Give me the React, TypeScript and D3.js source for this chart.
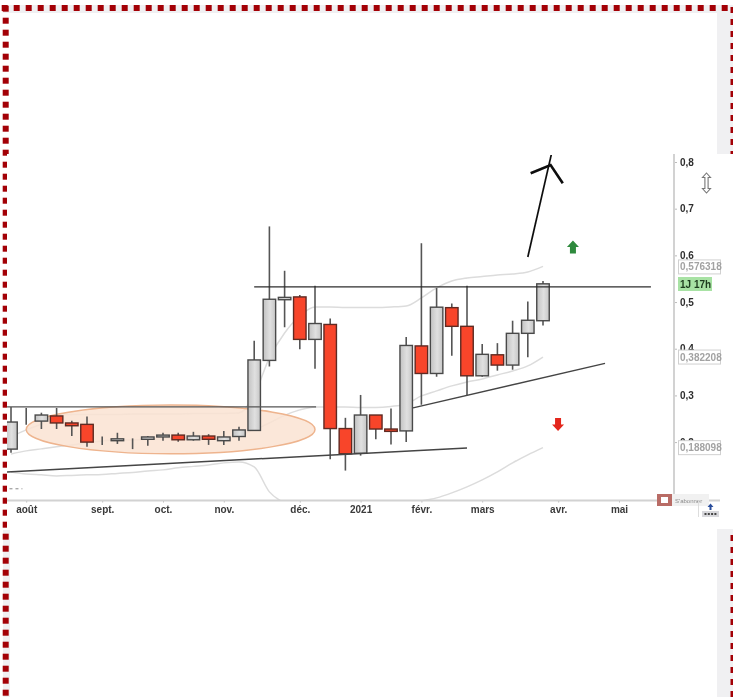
import { useEffect, useRef } from "react";
import * as d3 from "d3";

// weekly candles, [open, high, low, close]
const candles = [
  [0.185, 0.275, 0.177, 0.243], [0.245, 0.273, 0.237, 0.245], [0.245, 0.263, 0.228, 0.258],
  [0.256, 0.273, 0.228, 0.241], [0.241, 0.246, 0.213, 0.235], [0.238, 0.255, 0.19, 0.2],
  [0.203, 0.212, 0.194, 0.203], [0.203, 0.22, 0.196, 0.207], [0.207, 0.208, 0.185, 0.207],
  [0.206, 0.213, 0.192, 0.211], [0.211, 0.22, 0.203, 0.215], [0.215, 0.22, 0.201, 0.205],
  [0.205, 0.222, 0.203, 0.213], [0.213, 0.217, 0.194, 0.206], [0.203, 0.224, 0.194, 0.211],
  [0.212, 0.233, 0.203, 0.226], [0.225, 0.417, 0.224, 0.376], [0.375, 0.662, 0.362, 0.506],
  [0.505, 0.567, 0.446, 0.51], [0.511, 0.515, 0.399, 0.42], [0.42, 0.535, 0.357, 0.454],
  [0.452, 0.465, 0.163, 0.229], [0.229, 0.252, 0.139, 0.175], [0.176, 0.301, 0.171, 0.258],
  [0.258, 0.258, 0.206, 0.228], [0.228, 0.272, 0.195, 0.223], [0.224, 0.425, 0.2, 0.407],
  [0.406, 0.626, 0.28, 0.347], [0.347, 0.53, 0.34, 0.489], [0.488, 0.497, 0.385, 0.448],
  [0.448, 0.535, 0.301, 0.342], [0.342, 0.41, 0.34, 0.388], [0.387, 0.412, 0.353, 0.365],
  [0.365, 0.46, 0.355, 0.433], [0.433, 0.501, 0.382, 0.461], [0.46, 0.545, 0.45, 0.539],
];

const bandUpper = [
  0.2111, 0.2261, 0.239, 0.2583, 0.2593, 0.2593, 0.2593, 0.2593, 0.2604, 0.2604, 0.2604, 0.2604,
  0.2615, 0.2615, 0.2615, 0.2625, 0.3011, 0.3803, 0.4338, 0.4702, 0.4895, 0.4895, 0.4884, 0.4884,
  0.4884, 0.4895, 0.4917, 0.5088, 0.5302, 0.5452, 0.5516, 0.5548, 0.558, 0.5602, 0.5645, 0.576318,
];
const bandMiddle = [
  0.1747, 0.1812, 0.1855, 0.1898, 0.194, 0.1983, 0.2026, 0.2047, 0.2047, 0.2058, 0.2069, 0.209,
  0.209, 0.2111, 0.2111, 0.2154, 0.2261, 0.2411, 0.2572, 0.269, 0.2754, 0.2754, 0.2754, 0.2743,
  0.2743, 0.2765, 0.2818, 0.2989, 0.3097, 0.3204, 0.3289, 0.3353, 0.3439, 0.3525, 0.3632, 0.382208,
];
// lower band runs off the bottom of the chart between déc. and févr.
const bandLower = [
  0.1362, 0.1319, 0.1298, 0.1276, 0.1287, 0.1298, 0.1308, 0.133, 0.1351, 0.1383, 0.1405, 0.1448,
  0.148, 0.1512, 0.1555, 0.1576, 0.1469, 0.0934, 0.0698, null, null, null, null, null,
  null, null, null, 0.0741, 0.0805, 0.0912, 0.1041, 0.1191, 0.1362, 0.1555, 0.1726, 0.188098,
];

const monthTicks = [1, 6, 10, 14, 19, 23, 27, 31, 36, 40];
const monthLabels = ["août", "sept.", "oct.", "nov.", "déc.", "2021", "févr.", "mars", "avr.", "mai"];
const priceTicks = [0.2, 0.3, 0.4, 0.5, 0.6, 0.7, 0.8];

// hand drawn lines on top of the chart, [week, price]
const resistanceLine = [[16, 0.5323], [42.1, 0.5323]];
const oldTopLine = [[-0.26, 0.2754], [20.07, 0.2754]];
const supportLine = [[-0.26, 0.1362], [30, 0.1876]];
const risingLine = [[26.45, 0.2732], [39.08, 0.3685]];
const bigArrowShaft = [[34, 0.5966], [35.57, 0.8193]];
const bigArrowHead = [[34.19, 0.7758], [35.5, 0.7936], [36.3, 0.7544]];
const dashedStub = [[-0.1, 0.1], [0.75, 0.1]];

const bandEndLabels = ["0,576318", "0,382208", "0,188098"];
const bandEndValues = [0.576318, 0.382208, 0.188098];

const upSignal = [36.97, 0.618];
const downSignal = [35.99, 0.2379];
const rangeCentre = [10.5, 0.2272];

const WIDTH = 733;
const HEIGHT = 697;

export default function App() {
  const svgRef = useRef<SVGSVGElement | null>(null);

  useEffect(() => {
    const svg = d3.select(svgRef.current);
    svg.selectAll("*").remove();

    const x = d3.scaleLinear().domain([0, 35]).range([11, 543]);
    const y = d3.scaleLinear().domain([0.2, 0.8]).range([442.1, 162]);
    const font = "'Liberation Sans', Arial, sans-serif";

    const defs = svg.append("defs");
    defs.append("clipPath").attr("id", "plot")
      .append("rect").attr("x", 7).attr("y", 155).attr("width", 667).attr("height", 345);
    const grad = defs.append("linearGradient").attr("id", "upBody");
    grad.append("stop").attr("offset", "0%").attr("stop-color", "#c2c2c2");
    grad.append("stop").attr("offset", "55%").attr("stop-color", "#e0e0e0");
    grad.append("stop").attr("offset", "100%").attr("stop-color", "#c6c6c6");
    defs.append("filter").attr("id", "soft")
      .append("feGaussianBlur").attr("stdDeviation", 0.4);

    // page behind the pasted screenshot
    const page = svg.append("g");
    page.append("rect").attr("width", WIDTH).attr("height", HEIGHT).attr("fill", "#fff");
    const strips = [[3, 5, 730, 8], [717, 13, 16, 141], [717, 529, 16, 168], [3, 530, 7, 167]];
    page.selectAll(".strip").data(strips).join("rect")
      .attr("x", d => d[0]).attr("y", d => d[1])
      .attr("width", d => d[2]).attr("height", d => d[3])
      .attr("fill", "#f0f0f2");

    const dotted = "#a30006";
    page.selectAll(".top").data(d3.range(0, 61)).join("rect")
      .attr("x", d => 1.7 + d * 12).attr("y", 5)
      .attr("width", 6).attr("height", 6).attr("fill", dotted);
    page.selectAll(".left").data(d3.range(0, 58)).join("rect")
      .attr("x", 2.7).attr("y", d => 5.7 + d * 12)
      .attr("width", 6).attr("height", 6).attr("fill", dotted);
    page.selectAll(".right").data(d3.range(0, 58)).join("rect")
      .attr("x", 730.5).attr("y", d => 7 + d * 12)
      .attr("width", 3).attr("height", 6).attr("fill", dotted);

    page.append("rect").attr("x", 7).attr("y", 154).attr("width", 726).attr("height", 375).attr("fill", "#fff");

    const chart = svg.append("g").attr("filter", "url(#soft)");
    const plot = chart.append("g").attr("clip-path", "url(#plot)");

    // bollinger style bands
    const bandLine = d3.line<number | null>()
      .defined(d => d != null)
      .x((_, i) => x(i))
      .y(d => y(d as number))
      .curve(d3.curveMonotoneX);
    [bandUpper, bandMiddle, bandLower].forEach(band => {
      plot.append("path").attr("d", bandLine(band))
        .attr("fill", "none").attr("stroke", "#dcdcdc").attr("stroke-width", 1.5);
    });

    plot.append("ellipse")
      .attr("cx", x(rangeCentre[0])).attr("cy", y(rangeCentre[1]))
      .attr("rx", x(20) - x(10.5)).attr("ry", y(0.175) - y(0.2272))
      .attr("fill", "#fae3d2").attr("fill-opacity", 0.85)
      .attr("stroke", "#eeb48e").attr("stroke-width", 1.5);

    // candles
    const bodyW = 12.5;
    const candle = plot.selectAll(".candle").data(candles).join("g");
    candle.append("line")
      .attr("x1", (_, i) => x(i)).attr("x2", (_, i) => x(i))
      .attr("y1", d => y(d[1])).attr("y2", d => y(d[2]))
      .attr("stroke", "#555").attr("stroke-width", 1.6);
    candle.append("rect")
      .attr("x", (_, i) => x(i) - bodyW / 2)
      .attr("width", bodyW)
      .attr("y", d => y(Math.max(d[0], d[3])))
      .attr("height", d => Math.abs(y(d[0]) - y(d[3])))
      .attr("fill", d => (d[3] >= d[0] ? "url(#upBody)" : "#f8452c"))
      .attr("stroke", d => (d[3] >= d[0] ? "#4a4a4a" : "#5e2a22"))
      .attr("stroke-width", 1.4);

    // hand drawn lines
    const straight = d3.line<number[]>().x(d => x(d[0])).y(d => y(d[1]));
    const drawn = (pts: number[][], stroke: string, w: number, dash?: string) =>
      plot.append("path").attr("d", straight(pts)).attr("fill", "none")
        .attr("stroke", stroke).attr("stroke-width", w).attr("stroke-dasharray", dash ?? null);
    drawn(resistanceLine, "#2b2b2b", 1.2);
    drawn(oldTopLine, "#555", 1.4);
    drawn(supportLine, "#444", 1.5);
    drawn(risingLine, "#444", 1.4);
    drawn(dashedStub, "#888", 1, "3 3");
    drawn(bigArrowShaft, "#111", 1.7);
    drawn(bigArrowHead, "#0a0a0a", 2.6);

    // signal arrows
    const blockArrow = "M0,-6.5 L6,0 L3,0 L3,6.5 L-3,6.5 L-3,0 L-6,0 Z";
    chart.append("path").attr("d", blockArrow)
      .attr("transform", `translate(${x(upSignal[0])},${y(upSignal[1])})`).attr("fill", "#2f8a3c");
    chart.append("path").attr("d", blockArrow)
      .attr("transform", `translate(${x(downSignal[0])},${y(downSignal[1])}) rotate(180)`).attr("fill", "#e3261c");

    // axes
    const xAxis = d3.axisBottom(x)
      .tickValues(monthTicks)
      .tickFormat((_, i) => monthLabels[i])
      .tickSize(2).tickPadding(3);
    const gx = chart.append("g").attr("transform", "translate(0,500.5)").call(xAxis);
    gx.select(".domain").remove();
    gx.append("line").attr("x1", 7).attr("x2", 720).attr("stroke", "#d2d2d2").attr("stroke-width", 2);
    gx.selectAll(".tick line").attr("stroke", "#bbb");
    gx.selectAll("text").attr("fill", "#3a3a3a")
      .style("font", `bold 10px ${font}`);

    const yAxis = d3.axisRight(y)
      .tickValues(priceTicks)
      .tickFormat(d => d3.format(".1f")(d as number).replace(".", ","))
      .tickSize(3).tickPadding(3);
    const gy = chart.append("g").attr("transform", "translate(674,0)").call(yAxis);
    gy.select(".domain").remove();
    gy.append("line").attr("y1", 154).attr("y2", 500).attr("stroke", "#d2d2d2").attr("stroke-width", 2);
    gy.selectAll(".tick line").attr("stroke", "#bbb");
    gy.selectAll("text").attr("fill", "#2e2e2e")
      .style("font", `bold 10px ${font}`);

    // band end labels
    bandEndValues.forEach((v, i) => {
      const cy = y(v) + (i === 0 ? 0.5 : 0);
      chart.append("rect").attr("x", 678.5).attr("y", cy - 7).attr("width", 42).attr("height", 14)
        .attr("fill", "#fff").attr("stroke", "#d0d0d0");
      chart.append("text").attr("x", 680).attr("y", cy + 3.5)
        .attr("fill", "#a2a2a2").style("font", `bold 10px ${font}`)
        .text(bandEndLabels[i]);
    });

    // countdown tag
    chart.append("rect").attr("x", 678).attr("y", 277).attr("width", 34).attr("height", 14).attr("fill", "#a8e2a4");
    chart.append("text").attr("x", 680).attr("y", 287.5)
      .attr("fill", "#1d3a1d").style("font", `bold 10px ${font}`).text("1J 17h");

    // resize cursor
    chart.append("path")
      .attr("d", "M0,-10 L4,-5.5 L1.6,-5.5 L1.6,5.5 L4,5.5 L0,10 L-4,5.5 L-1.6,5.5 L-1.6,-5.5 L-4,-5.5 Z")
      .attr("transform", "translate(706.5,183)")
      .attr("fill", "#fff").attr("stroke", "#777").attr("stroke-width", 1.1);

    // subscribe badge and menu icon
    chart.append("rect").attr("x", 672).attr("y", 494).attr("width", 37).attr("height", 12).attr("fill", "#f1f1f1");
    chart.append("rect").attr("x", 657).attr("y", 494).attr("width", 15).attr("height", 12).attr("fill", "#b96c66");
    chart.append("rect").attr("x", 661).attr("y", 497).attr("width", 7).attr("height", 6).attr("fill", "#fff");
    chart.append("text").attr("x", 675).attr("y", 502.5)
      .attr("fill", "#8a8a8a").style("font", `6px ${font}`).text("S'abonner");
    chart.append("line").attr("x1", 698.5).attr("x2", 698.5).attr("y1", 501).attr("y2", 517).attr("stroke", "#ddd");
    chart.append("rect").attr("x", 702).attr("y", 511).attr("width", 17).attr("height", 6).attr("fill", "#d8d8dc");
    chart.selectAll(".dot").data(d3.range(0, 4)).join("rect")
      .attr("x", d => 704.5 + d * 3.3).attr("y", 513).attr("width", 2).attr("height", 2).attr("fill", "#444");
    chart.append("path").attr("d", "M0,-3.5 L3,0 L1,0 L1,3 L-1,3 L-1,0 L-3,0 Z")
      .attr("transform", "translate(710.5,507)").attr("fill", "#2a4d9c");
  }, []);

  return (
    <svg
      ref={svgRef}
      width={WIDTH}
      height={HEIGHT}
      style={{ position: "absolute", left: 0, top: 0, display: "block" }}
    />
  );
}
